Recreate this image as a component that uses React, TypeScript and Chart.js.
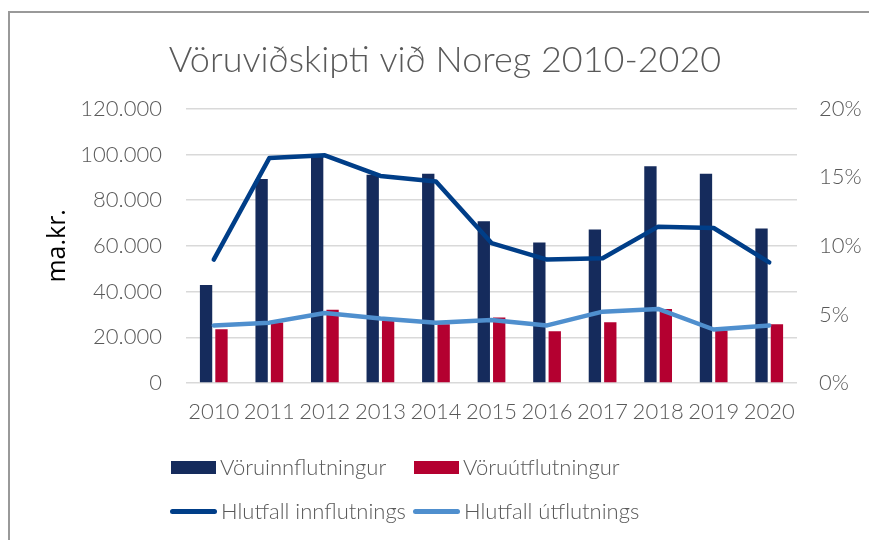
import React, { useEffect, useRef } from 'react';
import { Chart, registerables } from 'chart.js';

Chart.register(...registerables);

const categories = ['2010', '2011', '2012', '2013', '2014', '2015', '2016', '2017', '2018', '2019', '2020'];
const importValues = [42900, 89300, 99600, 91100, 91500, 70800, 61500, 67200, 94800, 91500, 67600];
const exportValues = [23500, 26500, 32000, 27200, 25700, 28700, 22600, 26600, 32400, 23000, 25700];
const importShare = [9.0, 16.4, 16.6, 15.1, 14.7, 10.2, 9.0, 9.1, 11.4, 11.3, 8.8];
const exportShare = [4.2, 4.4, 5.1, 4.7, 4.4, 4.6, 4.2, 5.2, 5.4, 3.9, 4.2];
const seriesNames = ['Vöruinnflutningur', 'Vöruútflutningur', 'Hlutfall innflutnings', 'Hlutfall útflutnings'];
const titleText = 'Vöruviðskipti við Noreg 2010-2020';
const leftAxisTitle = 'ma.kr.';

const NAVY = '#152B5C';
const RED = '#B40030';
const DARK_LINE = '#003E88';
const LIGHT_LINE = '#4F8FCE';
const GRAY_TEXT = '#595959';
const FONT = 'Lato, "Open Sans", sans-serif';

function fmtThousands(v: number): string {
  if (v === 0) return '0';
  return String(v).replace(/\B(?=(\d{3})+(?!\d))/g, '.');
}

export default function App() {
  const canvasRef = useRef<HTMLCanvasElement | null>(null);

  useEffect(() => {
    if (!canvasRef.current) return;
    const chart = new Chart(canvasRef.current, {
      type: 'bar',
      data: {
        labels: categories,
        datasets: [
          {
            type: 'bar',
            label: seriesNames[0],
            data: importValues,
            backgroundColor: NAVY,
            yAxisID: 'y',
            order: 2,
            categoryPercentage: 0.555,
            barPercentage: 0.8,
          },
          {
            type: 'bar',
            label: seriesNames[1],
            data: exportValues,
            backgroundColor: RED,
            yAxisID: 'y',
            order: 2,
            categoryPercentage: 0.555,
            barPercentage: 0.8,
          },
          {
            type: 'line',
            label: seriesNames[2],
            data: importShare,
            borderColor: DARK_LINE,
            backgroundColor: DARK_LINE,
            borderWidth: 4.5,
            pointRadius: 0,
            borderCapStyle: 'round',
            borderJoinStyle: 'round',
            tension: 0,
            yAxisID: 'y1',
            order: 1,
          },
          {
            type: 'line',
            label: seriesNames[3],
            data: exportShare,
            borderColor: LIGHT_LINE,
            backgroundColor: LIGHT_LINE,
            borderWidth: 4.5,
            pointRadius: 0,
            borderCapStyle: 'round',
            borderJoinStyle: 'round',
            tension: 0,
            yAxisID: 'y1',
            order: 1,
          },
        ] as any,
      },
      options: {
        animation: false,
        responsive: false,
        maintainAspectRatio: false,
        layout: { padding: { top: 0, left: 21, right: 0, bottom: 107 } },
        plugins: {
          legend: { display: false },
          tooltip: { enabled: false },
          title: {
            display: true,
            text: titleText,
            color: GRAY_TEXT,
            font: { family: FONT, size: 36, weight: '300' as any, lineHeight: 1.2 },
            padding: { top: 39, bottom: 26.5 },
          },
        },
        scales: {
          x: {
            grid: { display: false, drawTicks: false },
            border: { display: false },
            ticks: {
              color: GRAY_TEXT,
              font: { family: FONT, size: 22, weight: '300' as any },
              padding: 16,
              autoSkip: false,
              maxRotation: 0,
            },
            afterFit: (s: any) => { s.height = 50; },
          },
          y: {
            position: 'left',
            min: 0,
            max: 120000,
            grid: { color: '#D9D9D9', lineWidth: 1.5, drawTicks: false },
            border: { display: false },
            ticks: {
              stepSize: 20000,
              color: GRAY_TEXT,
              font: { family: FONT, size: 22, weight: '300' as any },
              padding: 24,
              callback: (v: any) => fmtThousands(Number(v)),
            },
            title: {
              display: true,
              text: leftAxisTitle,
              color: '#000000',
              font: { family: '"Open Sans", sans-serif', size: 25, weight: 'normal' as any, lineHeight: 1.2 },
              padding: { top: 22, bottom: 0 },
            },
            afterFit: (s: any) => { s.width = 165; },
          },
          y1: {
            position: 'right',
            min: 0,
            max: 20,
            grid: { display: false, drawTicks: false },
            border: { display: false },
            ticks: {
              stepSize: 5,
              color: GRAY_TEXT,
              font: { family: FONT, size: 22, weight: '300' as any },
              padding: 22,
              callback: (v: any) => `${v}%`,
            },
            afterFit: (s: any) => { s.width = 72; },
          },
        },
      } as any,
    });
    return () => chart.destroy();
  }, []);

  const legendText: React.CSSProperties = {
    fontFamily: FONT,
    fontWeight: 300,
    fontSize: 22,
    color: GRAY_TEXT,
    whiteSpace: 'nowrap',
    lineHeight: '26px',
  };
  const item = (left: number, top: number, swatch: React.ReactNode, text: string) => (
    <div style={{ position: 'absolute', left, top, display: 'flex', alignItems: 'center', height: 26 }}>
      {swatch}
      <span style={{ ...legendText, marginLeft: 4 }}>{text}</span>
    </div>
  );
  const box = (c: string) => <div style={{ width: 45, height: 13, background: c }} />;
  const line = (c: string) => <div style={{ width: 47, height: 5, borderRadius: 3, background: c }} />;

  return (
    <div style={{ position: 'fixed', left: 0, top: 0, width: 869, height: 540, overflow: 'hidden', background: '#fff' }}>
      <div
        style={{
          position: 'absolute',
          left: 8,
          top: 11,
          width: 1000,
          height: 1000,
          borderLeft: '2px solid #999',
          borderTop: '2px solid #999',
        }}
      />
      <canvas ref={canvasRef} width={869} height={540} style={{ position: 'absolute', left: 0, top: 0, width: 869, height: 540 }} />
      {item(171, 454, box(NAVY), seriesNames[0])}
      {item(414, 454, box(RED), seriesNames[1])}
      {item(170, 498, line(DARK_LINE), seriesNames[2])}
      {item(413, 498, line(LIGHT_LINE), seriesNames[3])}
    </div>
  );
}
